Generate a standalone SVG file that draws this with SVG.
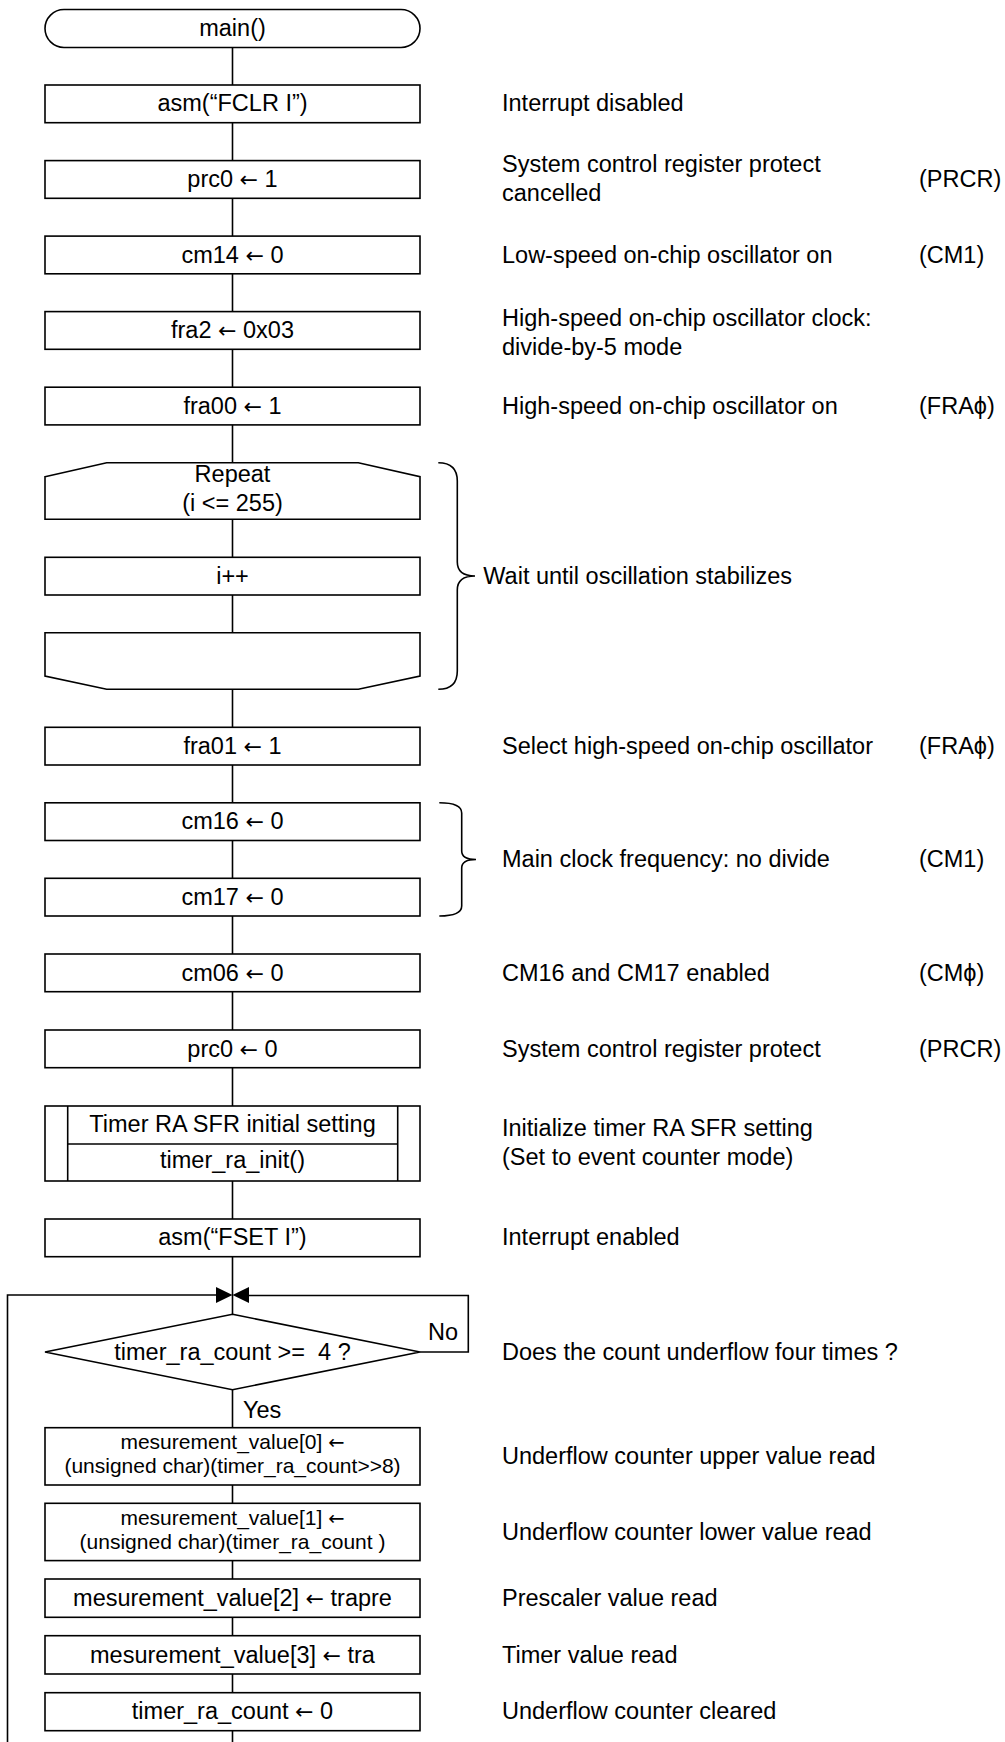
<svg xmlns="http://www.w3.org/2000/svg" width="1005" height="1742" viewBox="0 0 1005 1742">
<style>
  .box{fill:#fff;stroke:#000;stroke-width:1.6}
  .ln{fill:none;stroke:#000;stroke-width:1.6}
  text{font-family:"Liberation Sans",Arial,"DejaVu Sans",sans-serif;font-size:23.5px;fill:#000}
  .c{text-anchor:middle}
  .s{font-size:21px}
  .ar{font-family:"DejaVu Sans",sans-serif;font-size:22px}
  .s .ar{font-size:19.5px}
</style>
<rect width="1005" height="1742" fill="#fff"/>
<g id="connectors">
  <line class="ln" x1="232.5" y1="47.5" x2="232.5" y2="1742"/>
  <polyline class="ln" points="7.5,1742 7.5,1295 220,1295"/>
  <polyline class="ln" points="420,1352 468.3,1352 468.3,1295.5 245,1295.5"/>
  <polygon points="216,1287 232.5,1295 216,1303" fill="#000"/>
  <polygon points="249,1287 232.5,1295 249,1303" fill="#000"/>
  <text x="428" y="1340">No</text>
  <text x="243" y="1418">Yes</text>
</g>
<g id="n-main"><rect class="box" x="45" y="9.5" width="375" height="38" rx="19"/><text class="c" x="232.5" y="36">main()</text></g>
<g id="n-fclr"><rect class="box" x="45" y="85" width="375" height="37.7"/><text class="c" x="232.5" y="111.3">asm(“FCLR I”)</text></g>
<g id="n-prc1"><rect class="box" x="45" y="160.6" width="375" height="37.7"/><text class="c" x="232.5" y="187">prc0 <tspan class="ar">←</tspan> 1</text></g>
<g id="n-cm14"><rect class="box" x="45" y="236.1" width="375" height="37.7"/><text class="c" x="232.5" y="262.5">cm14 <tspan class="ar">←</tspan> 0</text></g>
<g id="n-fra2"><rect class="box" x="45" y="311.6" width="375" height="37.7"/><text class="c" x="232.5" y="338">fra2 <tspan class="ar">←</tspan> 0x03</text></g>
<g id="n-fra00"><rect class="box" x="45" y="387.2" width="375" height="37.7"/><text class="c" x="232.5" y="413.5">fra00 <tspan class="ar">←</tspan> 1</text></g>
<g id="n-repeat"><polygon class="box" points="45,476.7 106.7,462.7 358.3,462.7 420,476.7 420,519.3 45,519.3"/><text class="c" x="232.5" y="482">Repeat</text><text class="c" x="232.5" y="511">(i &lt;= 255)</text></g>
<g id="n-inc"><rect class="box" x="45" y="557.3" width="375" height="37.7"/><text class="c" x="232.5" y="583.5">i++</text></g>
<g id="n-loopend"><polygon class="box" points="45,632.7 420,632.7 420,676 358.3,689.3 106.7,689.3 45,676"/></g>
<g id="n-fra01"><rect class="box" x="45" y="727.3" width="375" height="37.7"/><text class="c" x="232.5" y="753.5">fra01 <tspan class="ar">←</tspan> 1</text></g>
<g id="n-cm16"><rect class="box" x="45" y="802.8" width="375" height="37.7"/><text class="c" x="232.5" y="829">cm16 <tspan class="ar">←</tspan> 0</text></g>
<g id="n-cm17"><rect class="box" x="45" y="878.3" width="375" height="37.7"/><text class="c" x="232.5" y="904.5">cm17 <tspan class="ar">←</tspan> 0</text></g>
<g id="n-cm06"><rect class="box" x="45" y="954" width="375" height="37.7"/><text class="c" x="232.5" y="980.5">cm06 <tspan class="ar">←</tspan> 0</text></g>
<g id="n-prc0"><rect class="box" x="45" y="1030" width="375" height="37.7"/><text class="c" x="232.5" y="1056.5">prc0 <tspan class="ar">←</tspan> 0</text></g>
<g id="n-timerinit"><rect class="box" x="45" y="1106" width="375" height="75"/><line class="ln" x1="67.7" y1="1106" x2="67.7" y2="1181"/><line class="ln" x1="397.7" y1="1106" x2="397.7" y2="1181"/><line class="ln" x1="67.7" y1="1144" x2="397.7" y2="1144"/><text class="c" x="232.5" y="1131.5">Timer RA SFR initial setting</text><text class="c" x="232.5" y="1168">timer_ra_init()</text></g>
<g id="n-fset"><rect class="box" x="45" y="1219" width="375" height="37.7"/><text class="c" x="232.5" y="1245">asm(“FSET I”)</text></g>
<g id="n-cond"><polygon class="box" points="232.5,1314.3 420,1352 232.5,1389.7 45,1352"/><text class="c" x="232.5" y="1360" xml:space="preserve">timer_ra_count &gt;=  4 ?</text></g>
<g id="n-mv0"><rect class="box" x="45" y="1427.7" width="375" height="57.3"/><text class="c s" x="232.5" y="1449">mesurement_value[0] <tspan class="ar">←</tspan></text><text class="c s" x="232.5" y="1473">(unsigned char)(timer_ra_count&gt;&gt;8)</text></g>
<g id="n-mv1"><rect class="box" x="45" y="1503.3" width="375" height="57.3"/><text class="c s" x="232.5" y="1525">mesurement_value[1] <tspan class="ar">←</tspan></text><text class="c s" x="232.5" y="1549" xml:space="preserve">(unsigned char)(timer_ra_count )</text></g>
<g id="n-mv2"><rect class="box" x="45" y="1579" width="375" height="38.3"/><text class="c" x="232.5" y="1605.5">mesurement_value[2] <tspan class="ar">←</tspan> trapre</text></g>
<g id="n-mv3"><rect class="box" x="45" y="1635.7" width="375" height="38.3"/><text class="c" x="232.5" y="1662.5">mesurement_value[3] <tspan class="ar">←</tspan> tra</text></g>
<g id="n-clear"><rect class="box" x="45" y="1692.7" width="375" height="38"/><text class="c" x="232.5" y="1719">timer_ra_count <tspan class="ar">←</tspan> 0</text></g>
<g id="braces">
  <path class="ln" d="M438.3,462.7 Q457.3,462.7 457.3,481 L457.3,562 Q457.3,576 475,576 Q457.3,576 457.3,590 L457.3,671 Q457.3,689.3 438.3,689.3"/>
  <path class="ln" d="M439.3,802.7 Q461.7,802.7 461.7,813 L461.7,851 Q461.7,859.5 476,859.5 Q461.7,859.5 461.7,868 L461.7,906 Q461.7,916 439.3,916"/>
</g>
<g id="notes">
  <text x="502" y="111.3">Interrupt disabled</text>
  <text x="502" y="172">System control register protect</text>
  <text x="502" y="201">cancelled</text>
  <text x="919" y="187">(PRCR)</text>
  <text x="502" y="262.5">Low-speed on-chip oscillator on</text>
  <text x="919" y="262.5">(CM1)</text>
  <text x="502" y="325.5">High-speed on-chip oscillator clock:</text>
  <text x="502" y="354.5">divide-by-5 mode</text>
  <text x="502" y="413.5">High-speed on-chip oscillator on</text>
  <text x="919" y="413.5">(FRAϕ)</text>
  <text x="483.3" y="583.5">Wait until oscillation stabilizes</text>
  <text x="502" y="753.5">Select high-speed on-chip oscillator</text>
  <text x="919" y="753.5">(FRAϕ)</text>
  <text x="502" y="867">Main clock frequency: no divide</text>
  <text x="919" y="867">(CM1)</text>
  <text x="502" y="980.5">CM16 and CM17 enabled</text>
  <text x="919" y="980.5">(CMϕ)</text>
  <text x="502" y="1056.5">System control register protect</text>
  <text x="919" y="1056.5">(PRCR)</text>
  <text x="502" y="1136">Initialize timer RA SFR setting</text>
  <text x="502" y="1165">(Set to event counter mode)</text>
  <text x="502" y="1245">Interrupt enabled</text>
  <text x="502" y="1360">Does the count underflow four times ?</text>
  <text x="502" y="1463.5">Underflow counter upper value read</text>
  <text x="502" y="1539.5">Underflow counter lower value read</text>
  <text x="502" y="1605.5">Prescaler value read</text>
  <text x="502" y="1662.5">Timer value read</text>
  <text x="502" y="1719">Underflow counter cleared</text>
</g>
</svg>
